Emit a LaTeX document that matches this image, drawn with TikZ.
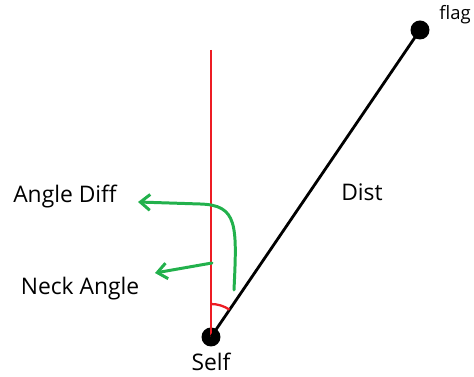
\documentclass[tikz,border=0pt]{standalone}
\usepackage{fontspec}
\setmainfont{Open Sans}
\usetikzlibrary{arrows.meta}
\definecolor{paintred}{RGB}{237,28,36}
\definecolor{paintgreen}{RGB}{34,177,76}

\begin{document}
\begin{tikzpicture}[x=0.02cm, y=-0.02cm,
        dot/.style={circle, fill=black, minimum size=0.38cm, inner sep=0pt},
        lbl/.style={font=\fontsize{13}{15}\selectfont, inner sep=1pt},
        small/.style={font=\fontsize{10.5}{12}\selectfont, inner sep=1pt},
        garrow/.style={paintgreen, line width=1.7pt, line cap=round,
          -{Straight Barb[length=5.5pt, width=9pt, line width=1.7pt]}}]
      \useasboundingbox (0,0) rectangle (474,377);

      % points
      \node[dot] (self) at (211,337) {};
      \node[dot] (flag) at (420,30) {};
      \coordinate (top) at (211,50);

      % labels
      \node[lbl] (selfl) at (211,362) {Self};
      \node[small] (flagl) at (455,15) {flag};
      \node[lbl] (dist) at (362,192) {Dist};
      \node[lbl] (diff) at (65,197) {Angle Diff};
      \node[lbl] (neck) at (80,289) {Neck Angle};

      % lines
      \draw[paintred, line width=1.3pt] (top) -- (self.center);
      \draw[line width=1.6pt] (self.center) -- (flag.center);
      \draw[paintred, line width=1.3pt]
        ([shift={(90:0.66cm)}]self.center) arc[start angle=90, end angle=56, radius=0.66cm];

      % green arrows
      \coordinate (diffs) at (234,290);
      \coordinate (diffe) at (138,202);
      \coordinate (necks) at (212,263);
      \coordinate (necke) at (155,273);
      \draw[garrow] (diffs) .. controls (237,225) and (238,205) .. (200,204) -- (diffe);
      \draw[garrow] (necks) -- (necke);
    \end{tikzpicture}
\end{document}
